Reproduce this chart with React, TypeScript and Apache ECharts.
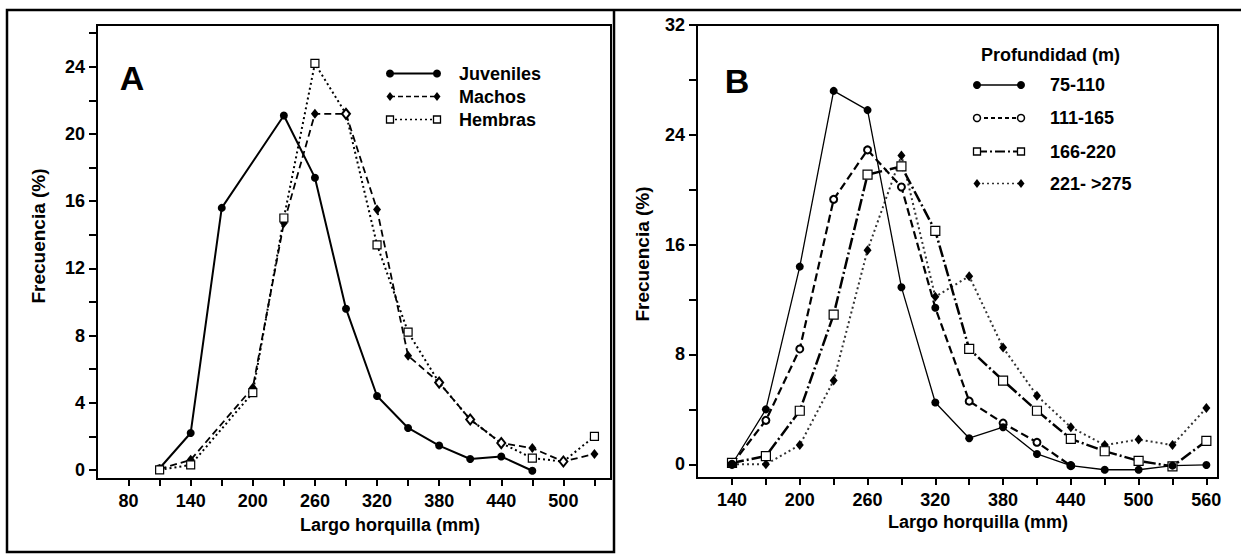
import React, { useEffect, useRef } from "react";
import * as echarts from "echarts";

const FONT = "'Liberation Sans', Arial, Helvetica, sans-serif";

// ---------- Panel A data ----------
const juvX = [110, 140, 170, 230, 260, 290, 320, 350, 380, 410, 440, 470];
const juvY = [0.1, 2.2, 15.6, 21.1, 17.4, 9.6, 4.4, 2.5, 1.45, 0.65, 0.8, -0.05];
const macX = [110, 140, 200, 230, 260, 290, 320, 350, 380, 410, 440, 470, 500, 530];
const macY = [0.05, 0.6, 4.9, 14.7, 21.2, 21.2, 15.5, 6.8, 5.2, 3.0, 1.6, 1.3, 0.5, 0.95];
const hemX = [110, 140, 200, 230, 260, 290, 320, 350, 380, 410, 440, 470, 500, 530];
const hemY = [0.0, 0.3, 4.6, 15.0, 24.2, 21.2, 13.4, 8.2, 5.2, 3.0, 1.6, 0.7, 0.5, 2.0];
const hemHollowDiamondAt = [290, 380, 410, 440, 500];

const aXLabels = [80, 140, 200, 260, 320, 380, 440, 500];
const aXTicks = [80, 110, 140, 170, 200, 230, 260, 290, 320, 350, 380, 410, 440, 470, 500, 530];
const aYLabels = [0, 4, 8, 12, 16, 20, 24];
const aYTicks = [0, 2, 4, 6, 8, 10, 12, 14, 16, 18, 20, 22, 24, 26];

// ---------- Panel B data ----------
const bX = [140, 170, 200, 230, 260, 290, 320, 350, 380, 410, 440, 470, 500, 530, 560];
const b75Y = [0.0, 4.0, 14.4, 27.2, 25.8, 12.9, 4.5, 1.9, 2.7, 0.75, -0.1, -0.4, -0.4, -0.1, -0.05];
const b111X = [140, 170, 200, 230, 260, 290, 320, 350, 380, 410, 440];
const b111Y = [0.0, 3.2, 8.4, 19.3, 22.9, 20.2, 11.4, 4.6, 3.0, 1.6, -0.1];
const b111FilledAt = [320];
const b166Y = [0.1, 0.6, 3.9, 10.9, 21.1, 21.7, 17.0, 8.4, 6.1, 3.9, 1.85, 0.95, 0.25, -0.15, 1.7];
const b221Y = [0.0, 0.0, 1.4, 6.1, 15.6, 22.5, 12.2, 13.7, 8.5, 5.0, 2.7, 1.4, 1.8, 1.4, 4.1];

const bXLabels = [140, 200, 260, 320, 380, 440, 500, 560];
const bXTicks = [140, 170, 200, 230, 260, 290, 320, 350, 380, 410, 440, 470, 500, 530, 560];
const bYLabels = [0, 8, 16, 24, 32];
const bYTicks = [0, 4, 8, 12, 16, 20, 24, 28, 32];

const aNames = ["Juveniles", "Machos", "Hembras"];
const bNames = ["75-110", "111-165", "166-220", "221- >275"];

const zip = (xs: number[], ys: number[]) => xs.map((x, i) => [x, ys[i]]);

const labelStyle = { color: "#000", fontWeight: "bold" as const, fontSize: 18, fontFamily: FONT };

function xAxisCfg(gridIndex: number, min: number, max: number, labels: number[], ticks: number[]) {
  return {
    type: "value",
    gridIndex,
    min,
    max,
    axisLine: { show: true, onZero: false, lineStyle: { color: "#000", width: 2 } },
    axisTick: { show: true, length: 7, lineStyle: { color: "#000", width: 2 }, customValues: ticks },
    axisLabel: { ...labelStyle, margin: 13, customValues: labels },
    splitLine: { show: false },
  };
}
function yAxisCfg(gridIndex: number, min: number, max: number, labels: number[], ticks: number[]) {
  return {
    type: "value",
    gridIndex,
    min,
    max,
    axisLine: { show: true, onZero: false, lineStyle: { color: "#000", width: 2 } },
    axisTick: { show: true, length: 8, lineStyle: { color: "#000", width: 2 }, customValues: ticks },
    axisLabel: { ...labelStyle, margin: 12, customValues: labels },
    splitLine: { show: false },
  };
}

// legend helpers (graphic keys only)
function keySym(kind: string, cx: number, cy: number): any {
  if (kind === "circle") return { type: "circle", shape: { cx, cy, r: 4 }, style: { fill: "#000" } };
  if (kind === "ocircle") return { type: "circle", shape: { cx, cy, r: 3.5 }, style: { fill: "#fff", stroke: "#000", lineWidth: 1.5 } };
  if (kind === "diamond")
    return { type: "polygon", shape: { points: [[cx, cy - 4.5], [cx + 3.5, cy], [cx, cy + 4.5], [cx - 3.5, cy]] }, style: { fill: "#000" } };
  return { type: "rect", shape: { x: cx - 3.5, y: cy - 3.5, width: 7, height: 7 }, style: { fill: "#fff", stroke: "#000", lineWidth: 1.3 } };
}
function keyRow(x0: number, x1: number, y: number, tx: number, text: string, kind: string, dash: any, lw: number, color = "#000"): any[] {
  return [
    { type: "line", shape: { x1: x0, y1: y, x2: x1, y2: y }, style: { stroke: color, lineWidth: lw, lineDash: dash } },
    keySym(kind, x0, y),
    keySym(kind, x1, y),
    { type: "text", x: tx, y, style: { text, fill: "#000", font: `bold 18px ${FONT}`, verticalAlign: "middle", align: "left" } },
  ];
}

export default function App() {
  const ref = useRef<HTMLDivElement>(null);
  useEffect(() => {
    const chart = echarts.init(ref.current!, null, { renderer: "svg" });

    const hemData = zip(hemX, hemY).map((p) =>
      hemHollowDiamondAt.includes(p[0])
        ? { value: p, symbol: "emptyDiamond", symbolSize: [8, 10], itemStyle: { color: "#000", borderColor: "#000", borderWidth: 1.2 } }
        : { value: p }
    );
    const b111Data = zip(b111X, b111Y).map((p) =>
      b111FilledAt.includes(p[0]) ? { value: p, symbol: "circle", symbolSize: 8, itemStyle: { color: "#000" } } : { value: p }
    );

    const option: any = {
      animation: false,
      backgroundColor: "#fff",
      grid: [
        { left: 97, top: 25, width: 514, height: 454, show: true, borderColor: "#000", borderWidth: 2, backgroundColor: "transparent" },
        { left: 697, top: 25, width: 521, height: 453, show: true, borderColor: "#000", borderWidth: 2, backgroundColor: "transparent" },
      ],
      xAxis: [xAxisCfg(0, 49.5, 546, aXLabels, aXTicks), xAxisCfg(1, 109, 570.3, bXLabels, bXTicks)],
      yAxis: [yAxisCfg(0, -0.54, 26.49, aYLabels, aYTicks), yAxisCfg(1, -1, 32, bYLabels, bYTicks)],
      series: [
        {
          name: aNames[0], type: "line", xAxisIndex: 0, yAxisIndex: 0, data: zip(juvX, juvY),
          symbol: "circle", symbolSize: 8, itemStyle: { color: "#000" },
          lineStyle: { color: "#000", width: 2, type: "solid" },
        },
        {
          name: aNames[1], type: "line", xAxisIndex: 0, yAxisIndex: 0, data: zip(macX, macY),
          symbol: "diamond", symbolSize: [8, 10], itemStyle: { color: "#000" },
          lineStyle: { color: "#000", width: 1.8, type: [7, 4] },
        },
        {
          name: aNames[2], type: "line", xAxisIndex: 0, yAxisIndex: 0, data: hemData,
          symbol: "rect", symbolSize: 8, itemStyle: { color: "#fff", borderColor: "#000", borderWidth: 1.2 },
          lineStyle: { color: "#000", width: 2, type: [2, 3] },
        },
        {
          name: bNames[3], type: "line", xAxisIndex: 1, yAxisIndex: 1, data: zip(bX, b221Y),
          symbol: "diamond", symbolSize: [8, 10], itemStyle: { color: "#000" },
          lineStyle: { color: "#333", width: 2, type: [2, 3] },
        },
        {
          name: bNames[2], type: "line", xAxisIndex: 1, yAxisIndex: 1, data: zip(bX, b166Y),
          symbol: "rect", symbolSize: 9, itemStyle: { color: "#fff", borderColor: "#000", borderWidth: 1.2 },
          lineStyle: { color: "#000", width: 2.5, type: [12, 3, 2, 3] },
        },
        {
          name: bNames[1], type: "line", xAxisIndex: 1, yAxisIndex: 1, data: b111Data,
          symbol: "emptyCircle", symbolSize: 7, itemStyle: { color: "#000", borderWidth: 1.5 },
          lineStyle: { color: "#000", width: 2.2, type: [8, 4] },
        },
        {
          name: bNames[0], type: "line", xAxisIndex: 1, yAxisIndex: 1, data: zip(bX, b75Y),
          symbol: "circle", symbolSize: 8, itemStyle: { color: "#000" },
          lineStyle: { color: "#000", width: 1.3, type: "solid" },
        },
      ],
      graphic: [
        // outer frame
        { type: "polyline", shape: { points: [[1241, 10], [7, 10], [7, 552], [614, 552], [614, 10]] }, style: { stroke: "#000", lineWidth: 2.5, fill: null } },
        // panel letters
        { type: "text", x: 132, y: 78, style: { text: "A", fill: "#000", font: `bold 34px ${FONT}`, align: "center", verticalAlign: "middle" } },
        { type: "text", x: 737, y: 81, style: { text: "B", fill: "#000", font: `bold 34px ${FONT}`, align: "center", verticalAlign: "middle" } },
        // axis titles
        { type: "text", x: 38, y: 236, rotation: Math.PI / 2, style: { text: "Frecuencia (%)", fill: "#000", font: `bold 19px ${FONT}`, align: "center", verticalAlign: "middle" } },
        { type: "text", x: 642, y: 254, rotation: Math.PI / 2, style: { text: "Frecuencia (%)", fill: "#000", font: `bold 19px ${FONT}`, align: "center", verticalAlign: "middle" } },
        { type: "text", x: 390, y: 525, style: { text: "Largo horquilla (mm)", fill: "#000", font: `bold 18px ${FONT}`, align: "center", verticalAlign: "middle" } },
        { type: "text", x: 978, y: 522, style: { text: "Largo horquilla (mm)", fill: "#000", font: `bold 18px ${FONT}`, align: "center", verticalAlign: "middle" } },
        // legend A
        ...keyRow(390, 437, 73.5, 459, aNames[0], "circle", null, 2),
        ...keyRow(390, 437, 96.5, 459, aNames[1], "diamond", [5, 3], 1.5),
        ...keyRow(390, 437, 119.5, 459, aNames[2], "square", [2, 3], 1.5),
        // legend B
        { type: "text", x: 981, y: 55, style: { text: "Profundidad (m)", fill: "#000", font: `bold 18px ${FONT}`, verticalAlign: "middle", align: "left" } },
        ...keyRow(977, 1021, 85, 1050, bNames[0], "circle", null, 1.5),
        ...keyRow(977, 1021, 118, 1050, bNames[1], "ocircle", [4, 3], 2),
        ...keyRow(977, 1021, 151.5, 1050, bNames[2], "square", [10, 3, 2, 3], 2),
        ...keyRow(977, 1021, 183.5, 1050, bNames[3], "diamond", [2, 3], 1.5, "#333"),
      ],
    };
    chart.setOption(option);
    return () => chart.dispose();
  }, []);
  return (
    <div
      ref={ref}
      style={{ position: "absolute", left: 0, top: 0, width: 1241, height: 555, background: "#fff" }}
    />
  );
}
